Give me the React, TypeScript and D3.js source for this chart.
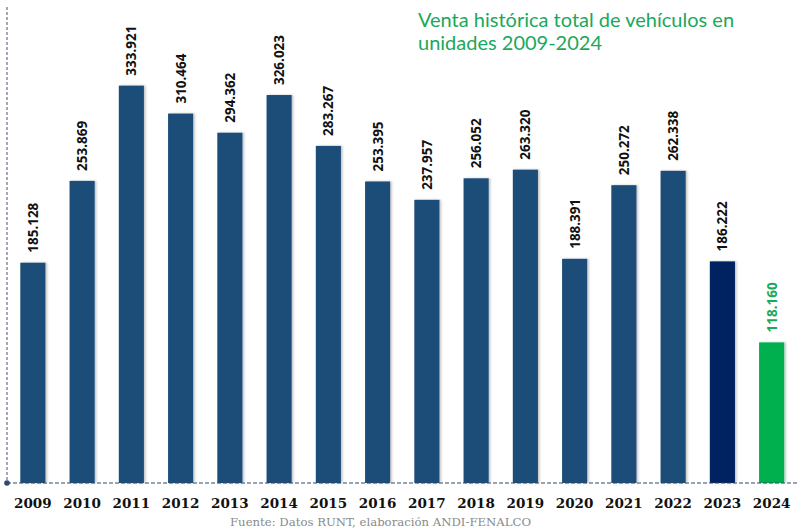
import { useEffect } from "react";
import * as d3 from "d3";

const years = ["2009", "2010", "2011", "2012", "2013", "2014", "2015", "2016", "2017", "2018", "2019", "2020", "2021", "2022", "2023", "2024"];
const sales = [185128, 253869, 333921, 310464, 294362, 326023, 283267, 253395, 237957, 256052, 263320, 188391, 250272, 262338, 186222, 118160];
const titleLines = ["Venta histórica total de vehículos en", "unidades 2009-2024"];
const source = "Fuente: Datos RUNT, elaboración ANDI-FENALCO";

const W = 803;
const H = 531;
const baseY = 483;

const fmt = (v: number) => d3.format(",")(v).replace(/,/g, ".");

function barColor(year: string) {
  if (year === "2024") return "#00b050";
  if (year === "2023") return "#002060";
  return "#1f4e79";
}

export default function App() {
  useEffect(() => {
    document.body.style.margin = "0";
  }, []);

  const x = d3.scaleBand().domain(years).range([7.5, 797]).paddingInner(0.49).paddingOuter(0.26);
  const y = d3.scaleLinear().domain([0, 400000]).range([baseY, 7]);

  return (
    <svg width={W} height={H} style={{ display: "block", background: "#fff" }}>
      <defs>
        <filter id="shadow" x="-20%" y="-5%" width="150%" height="110%">
          <feDropShadow dx="1.5" dy="0" stdDeviation="1" floodColor="#000" floodOpacity="0.25" />
        </filter>
      </defs>

      {/* left axis */}
      <line x1={7} x2={7} y1={7} y2={baseY} stroke="#44546a" strokeWidth={1} strokeDasharray="3,2" />

      {years.map((yr, i) => {
        const bx = x(yr)!;
        const top = y(sales[i]);
        const cx = bx + x.bandwidth() / 2;
        return (
          <g key={yr}>
            <rect x={bx} y={top} width={x.bandwidth()} height={baseY - top} fill={barColor(yr)} filter="url(#shadow)" />
            <text
              transform={`translate(${cx},${top - 10}) rotate(-90)`}
              dy="0.36em"
              fontFamily="'Open Sans', sans-serif"
              fontWeight="bold"
              fontSize={14}
              textLength={50}
              lengthAdjust="spacingAndGlyphs"
              fill={yr === "2024" ? "#1aa85a" : "#111"}
            >
              {fmt(sales[i])}
            </text>
            <text
              x={cx}
              y={508}
              textAnchor="middle"
              fontFamily="'DejaVu Serif', serif"
              fontWeight="bold"
              fontSize={13.5}
              fill="#111"
            >
              {yr}
            </text>
          </g>
        );
      })}

      <line x1={7} x2={797} y1={baseY} y2={baseY} stroke="#2f4a6e" strokeWidth={1.2} strokeDasharray="4,2" />
      <circle cx={7} cy={baseY} r={2.8} fill="#2f4a6e" />

      {titleLines.map((t, i) => (
        <text
          key={i}
          x={418}
          y={27 + i * 23}
          fontFamily="Lato, sans-serif"
          fontSize={20}
          fill="#1aa85a"
        >
          {t}
        </text>
      ))}

      <text x={230} y={526} fontFamily="'DejaVu Serif', serif" fontSize={11.7} fill="#8a8a8a">
        {source}
      </text>
    </svg>
  );
}
